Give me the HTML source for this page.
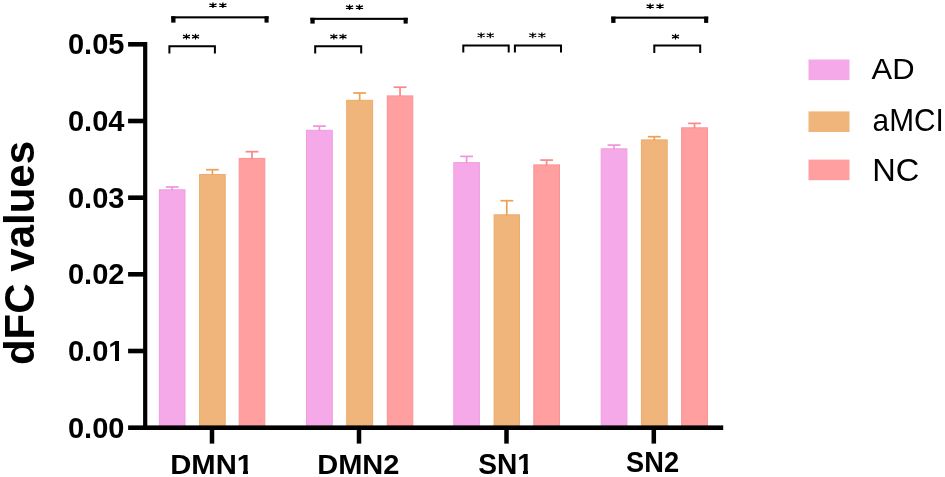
<!DOCTYPE html><html><head><meta charset="utf-8"><style>
html,body{margin:0;padding:0;background:#fff}svg{display:block;will-change:transform}text{font-family:"Liberation Sans",sans-serif;fill:#000}
</style></head><body>
<svg width="945" height="477" viewBox="0 0 945 477">
<rect width="945" height="477" fill="#fff"/>
<rect x="159.4" y="189.8" width="25.6" height="237.2" fill="#F5A9E8" stroke="#F19DE1" stroke-width="1"/>
<rect x="171.35" y="187.0" width="1.7" height="3.3" fill="#EF93DD"/>
<rect x="165.8" y="186.15" width="12.8" height="1.7" fill="#EF93DD"/>
<rect x="199.6" y="174.5" width="25.6" height="252.5" fill="#F0B57B" stroke="#EEAB6B" stroke-width="1"/>
<rect x="211.55" y="169.7" width="1.7" height="5.3" fill="#EEA055"/>
<rect x="206.0" y="168.85" width="12.8" height="1.7" fill="#EEA055"/>
<rect x="239.2" y="158.4" width="25.6" height="268.6" fill="#FF9F9F" stroke="#FB9393" stroke-width="1"/>
<rect x="251.15" y="151.7" width="1.7" height="7.2" fill="#F98888"/>
<rect x="245.6" y="150.85" width="12.8" height="1.7" fill="#F98888"/>
<rect x="306.5" y="130.3" width="25.8" height="296.7" fill="#F5A9E8" stroke="#F19DE1" stroke-width="1"/>
<rect x="318.55" y="126.1" width="1.7" height="4.7" fill="#EF93DD"/>
<rect x="313.0" y="125.25" width="12.8" height="1.7" fill="#EF93DD"/>
<rect x="346.7" y="100.3" width="25.9" height="326.7" fill="#F0B57B" stroke="#EEAB6B" stroke-width="1"/>
<rect x="358.80" y="93.0" width="1.7" height="7.8" fill="#EEA055"/>
<rect x="353.2" y="92.15" width="12.8" height="1.7" fill="#EEA055"/>
<rect x="387.3" y="95.9" width="25.5" height="331.1" fill="#FF9F9F" stroke="#FB9393" stroke-width="1"/>
<rect x="399.20" y="87.2" width="1.7" height="9.2" fill="#F98888"/>
<rect x="393.7" y="86.35" width="12.8" height="1.7" fill="#F98888"/>
<rect x="453.8" y="162.6" width="25.6" height="264.4" fill="#F5A9E8" stroke="#F19DE1" stroke-width="1"/>
<rect x="465.75" y="156.4" width="1.7" height="6.7" fill="#EF93DD"/>
<rect x="460.2" y="155.55" width="12.8" height="1.7" fill="#EF93DD"/>
<rect x="494.1" y="214.8" width="25.4" height="212.2" fill="#F0B57B" stroke="#EEAB6B" stroke-width="1"/>
<rect x="505.95" y="200.7" width="1.7" height="14.6" fill="#EEA055"/>
<rect x="500.4" y="199.85" width="12.8" height="1.7" fill="#EEA055"/>
<rect x="533.8" y="164.9" width="25.7" height="262.1" fill="#FF9F9F" stroke="#FB9393" stroke-width="1"/>
<rect x="545.80" y="160.1" width="1.7" height="5.3" fill="#F98888"/>
<rect x="540.2" y="159.25" width="12.8" height="1.7" fill="#F98888"/>
<rect x="601.2" y="148.8" width="25.7" height="278.2" fill="#F5A9E8" stroke="#F19DE1" stroke-width="1"/>
<rect x="613.20" y="145.1" width="1.7" height="4.2" fill="#EF93DD"/>
<rect x="607.6" y="144.25" width="12.8" height="1.7" fill="#EF93DD"/>
<rect x="641.4" y="139.9" width="25.8" height="287.1" fill="#F0B57B" stroke="#EEAB6B" stroke-width="1"/>
<rect x="653.45" y="136.7" width="1.7" height="3.7" fill="#EEA055"/>
<rect x="647.9" y="135.85" width="12.8" height="1.7" fill="#EEA055"/>
<rect x="681.6" y="127.8" width="25.9" height="299.2" fill="#FF9F9F" stroke="#FB9393" stroke-width="1"/>
<rect x="693.70" y="123.4" width="1.7" height="4.9" fill="#F98888"/>
<rect x="688.1" y="122.55" width="12.8" height="1.7" fill="#F98888"/>
<rect x="143.1" y="42" width="4.2" height="388" fill="#000"/>
<rect x="143.1" y="425.4" width="580.1" height="4.6" fill="#000"/>
<rect x="128.1" y="425.4" width="16" height="4.6" fill="#000"/>
<text transform="translate(124.5,437.6) scale(0.985,1)" font-size="29.5" font-weight="bold" text-anchor="end">0.00</text>
<rect x="128.1" y="348.7" width="16" height="4.6" fill="#000"/>
<text transform="translate(124.5,360.9) scale(0.985,1)" font-size="29.5" font-weight="bold" text-anchor="end">0.01</text>
<rect x="128.1" y="272.0" width="16" height="4.6" fill="#000"/>
<text transform="translate(124.5,284.2) scale(0.985,1)" font-size="29.5" font-weight="bold" text-anchor="end">0.02</text>
<rect x="128.1" y="195.4" width="16" height="4.6" fill="#000"/>
<text transform="translate(124.5,207.6) scale(0.985,1)" font-size="29.5" font-weight="bold" text-anchor="end">0.03</text>
<rect x="128.1" y="118.7" width="16" height="4.6" fill="#000"/>
<text transform="translate(124.5,130.9) scale(0.985,1)" font-size="29.5" font-weight="bold" text-anchor="end">0.04</text>
<rect x="128.1" y="42.0" width="16" height="4.6" fill="#000"/>
<text transform="translate(124.5,54.2) scale(0.985,1)" font-size="29.5" font-weight="bold" text-anchor="end">0.05</text>
<rect x="209.75" y="430" width="4.5" height="13.6" fill="#000"/>
<text transform="translate(211.6,473.7) scale(1.03,1)" font-size="28.4" font-weight="bold" text-anchor="middle">DMN1</text>
<rect x="356.75" y="430" width="4.5" height="13.6" fill="#000"/>
<text transform="translate(358.3,473.7) scale(1.022,1)" font-size="28.4" font-weight="bold" text-anchor="middle">DMN2</text>
<rect x="504.25" y="430" width="4.5" height="13.6" fill="#000"/>
<text transform="translate(505.6,473.5) scale(0.964,1)" font-size="29.2" font-weight="bold" text-anchor="middle">SN1</text>
<rect x="651.55" y="430" width="4.5" height="13.6" fill="#000"/>
<text transform="translate(652.6,471.7) scale(0.92,1)" font-size="29.6" font-weight="bold" text-anchor="middle">SN2</text>
<text transform="translate(34.4,253) rotate(-90)" font-size="42" font-weight="bold" text-anchor="middle">dFC values</text>
<path d="M169.4 53.4V46.2H214.9V53.4" fill="none" stroke="#000" stroke-width="2"/>
<path d="M186.45 33.70V39.50M182.95 35.09L189.95 38.11M182.95 38.11L189.95 35.09" stroke="#000" stroke-width="1.2" fill="none"/><circle cx="186.45" cy="36.60" r="0.96" fill="#000"/>
<path d="M195.55 33.70V39.50M192.05 35.09L199.05 38.11M192.05 38.11L199.05 35.09" stroke="#000" stroke-width="1.2" fill="none"/><circle cx="195.55" cy="36.60" r="0.96" fill="#000"/>
<rect x="171.2" y="16.3" width="97.4" height="2.1" fill="#000"/>
<rect x="171.2" y="16.3" width="4.3" height="6.3" fill="#000"/>
<rect x="264.5" y="16.3" width="4.1" height="6.3" fill="#000"/>
<path d="M212.95 2.50V7.90M209.40 3.80L216.50 6.60M209.40 6.60L216.50 3.80" stroke="#000" stroke-width="1.35" fill="none"/><circle cx="212.95" cy="5.20" r="1.08" fill="#000"/>
<path d="M222.85 2.50V7.90M219.30 3.80L226.40 6.60M219.30 6.60L226.40 3.80" stroke="#000" stroke-width="1.35" fill="none"/><circle cx="222.85" cy="5.20" r="1.08" fill="#000"/>
<path d="M315.2 53.4V46.2H361.2V53.4" fill="none" stroke="#000" stroke-width="2"/>
<path d="M333.85 33.70V39.50M330.35 35.09L337.35 38.11M330.35 38.11L337.35 35.09" stroke="#000" stroke-width="1.2" fill="none"/><circle cx="333.85" cy="36.60" r="0.96" fill="#000"/>
<path d="M342.95 33.70V39.50M339.45 35.09L346.45 38.11M339.45 38.11L346.45 35.09" stroke="#000" stroke-width="1.2" fill="none"/><circle cx="342.95" cy="36.60" r="0.96" fill="#000"/>
<rect x="310.4" y="17.8" width="97.3" height="2.1" fill="#000"/>
<rect x="310.4" y="17.8" width="4.3" height="5.8" fill="#000"/>
<rect x="403.6" y="17.8" width="4.1" height="5.8" fill="#000"/>
<path d="M349.55 4.50V9.90M346.00 5.80L353.10 8.60M346.00 8.60L353.10 5.80" stroke="#000" stroke-width="1.35" fill="none"/><circle cx="349.55" cy="7.20" r="1.08" fill="#000"/>
<path d="M359.45 4.50V9.90M355.90 5.80L363.00 8.60M355.90 8.60L363.00 5.80" stroke="#000" stroke-width="1.35" fill="none"/><circle cx="359.45" cy="7.20" r="1.08" fill="#000"/>
<path d="M463.3 52.5V45.4H508.7V52.5" fill="none" stroke="#000" stroke-width="2"/>
<path d="M481.15 32.40V38.20M477.65 33.79L484.65 36.81M477.65 36.81L484.65 33.79" stroke="#000" stroke-width="1.2" fill="none"/><circle cx="481.15" cy="35.30" r="0.96" fill="#000"/>
<path d="M490.25 32.40V38.20M486.75 33.79L493.75 36.81M486.75 36.81L493.75 33.79" stroke="#000" stroke-width="1.2" fill="none"/><circle cx="490.25" cy="35.30" r="0.96" fill="#000"/>
<path d="M514.9 52.5V45.4H561.0V52.5" fill="none" stroke="#000" stroke-width="2"/>
<path d="M532.75 32.40V38.20M529.25 33.79L536.25 36.81M529.25 36.81L536.25 33.79" stroke="#000" stroke-width="1.2" fill="none"/><circle cx="532.75" cy="35.30" r="0.96" fill="#000"/>
<path d="M541.85 32.40V38.20M538.35 33.79L545.35 36.81M538.35 36.81L545.35 33.79" stroke="#000" stroke-width="1.2" fill="none"/><circle cx="541.85" cy="35.30" r="0.96" fill="#000"/>
<rect x="611.2" y="16.6" width="97.0" height="2.1" fill="#000"/>
<rect x="611.2" y="16.6" width="4.3" height="6.3" fill="#000"/>
<rect x="704.1" y="16.6" width="4.1" height="6.3" fill="#000"/>
<path d="M650.15 3.50V8.90M646.60 4.80L653.70 7.60M646.60 7.60L653.70 4.80" stroke="#000" stroke-width="1.35" fill="none"/><circle cx="650.15" cy="6.20" r="1.08" fill="#000"/>
<path d="M660.05 3.50V8.90M656.50 4.80L663.60 7.60M656.50 7.60L663.60 4.80" stroke="#000" stroke-width="1.35" fill="none"/><circle cx="660.05" cy="6.20" r="1.08" fill="#000"/>
<path d="M654.3 53.0V45.4H700.2V53.0" fill="none" stroke="#000" stroke-width="2"/>
<path d="M675.50 33.70V39.50M672.00 35.09L679.00 38.11M672.00 38.11L679.00 35.09" stroke="#000" stroke-width="1.2" fill="none"/><circle cx="675.50" cy="36.60" r="0.96" fill="#000"/>
<rect x="808.5" y="59.5" width="41" height="20.6" fill="#F5A9E8"/>
<text transform="translate(871.5,79.4) scale(1.05,1)" font-size="29.5">AD</text>
<rect x="808.5" y="111.4" width="41" height="20.6" fill="#F0B57B"/>
<text transform="translate(872.6,131.1) scale(0.968,1)" font-size="30.8">aMCI</text>
<rect x="808.5" y="159.6" width="41" height="20.6" fill="#FF9F9F"/>
<text transform="translate(872.3,181.2) scale(1.035,1)" font-size="31.5">NC</text>
<rect x="236" y="470.4" width="7" height="4.6" fill="#fff"/>
<rect x="248" y="470.4" width="7.5" height="4.6" fill="#fff"/>
<rect x="516" y="470.4" width="7" height="4.6" fill="#fff"/>
<rect x="528" y="470.4" width="7.5" height="4.6" fill="#fff"/>
<rect x="108" y="357.4" width="7" height="4.6" fill="#fff"/>
<rect x="119" y="357.4" width="7.5" height="4.6" fill="#fff"/>
</svg></body></html>
